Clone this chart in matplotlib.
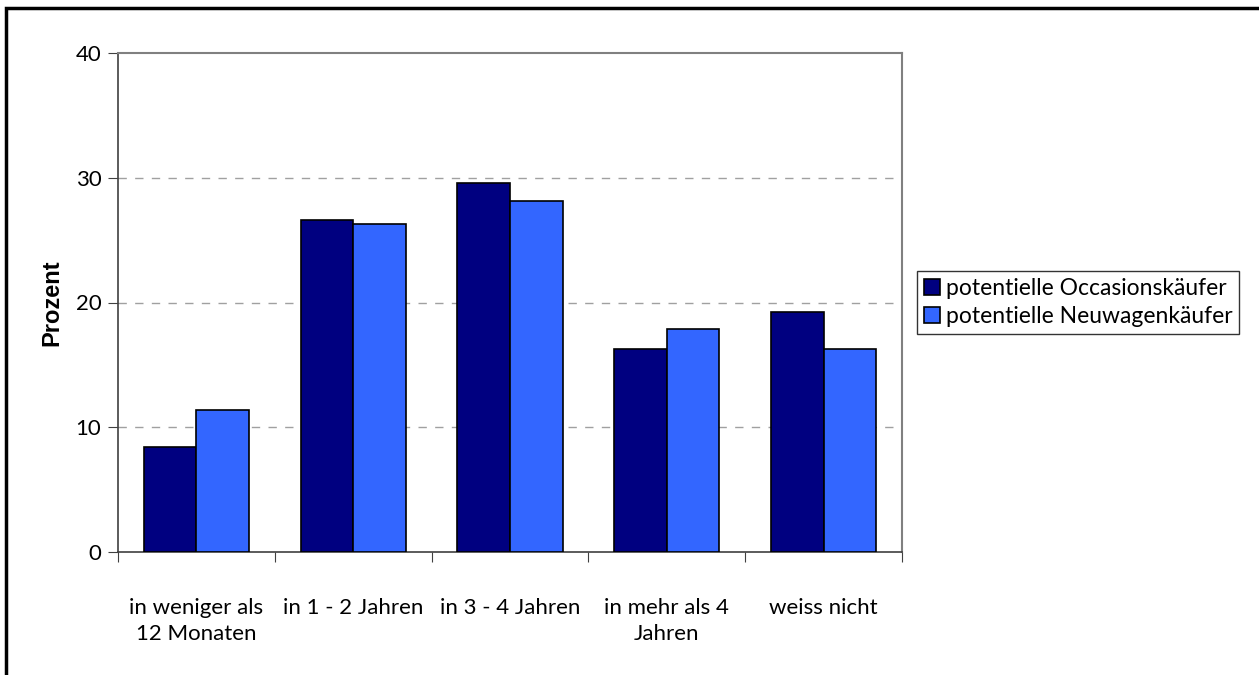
import numpy as np
import matplotlib.pyplot as plt
from matplotlib.patches import Rectangle

categories = ["in weniger als\n12 Monaten", "in 1 - 2 Jahren", "in 3 - 4 Jahren",
              "in mehr als 4\nJahren", "weiss nicht"]
occasion = [8.4, 26.6, 29.6, 16.3, 19.2]
neuwagen = [11.4, 26.3, 28.1, 17.9, 16.3]
series_names = ["potentielle Occasionskäufer", "potentielle Neuwagenkäufer"]

plt.rcParams['font.family'] = ['Lato', 'DejaVu Sans']

fig = plt.figure(figsize=(12.59, 6.75), dpi=100)
ax = fig.add_axes([118 / 1259, 1 - 552 / 675, 784 / 1259, 499 / 675])

x = np.arange(len(categories))
w = 0.335
ax.bar(x - w / 2, occasion, w, color="#000080", edgecolor="black", linewidth=1.2,
       label=series_names[0], zorder=3)
ax.bar(x + w / 2, neuwagen, w, color="#3366FF", edgecolor="black", linewidth=1.2,
       label=series_names[1], zorder=3)

ax.set_xlim(-0.5, len(categories) - 0.5)
ax.set_ylim(0, 40)
ax.set_yticks([0, 10, 20, 30, 40])
ax.set_yticklabels(["0", "10", "20", "30", "40"], fontsize=16)
for yv in [10, 20, 30]:
    ax.axhline(yv, color="#a0a0a0", linestyle=(0, (6, 6)), linewidth=1, zorder=1)

ax.set_xticks(np.arange(len(categories) + 1) - 0.5)
ax.set_xticklabels([])
ax.set_xticks(x, minor=True)
ax.set_xticklabels(categories, minor=True, fontsize=16, linespacing=1.4)
ax.tick_params(axis="x", which="minor", length=0, pad=33)
ax.tick_params(axis="x", which="major", length=7, direction="out", color="#404040")
ax.tick_params(axis="y", length=7, direction="out", color="#404040", pad=5)

for s in ["top", "right"]:
    ax.spines[s].set_color("#808080")
    ax.spines[s].set_linewidth(1.5)
for s in ["left", "bottom"]:
    ax.spines[s].set_color("#404040")
    ax.spines[s].set_linewidth(1.2)

ax.set_ylabel("Prozent", fontsize=17, fontweight="bold", family="Liberation Sans", labelpad=9)

leg = ax.legend(loc="center left", bbox_to_anchor=(1.019, 0.5), fontsize=16.5,
                frameon=True, fancybox=False, edgecolor="black", handlelength=0.7,
                handleheight=0.7, handletextpad=0.25, borderpad=0.3, labelspacing=0.3,
                borderaxespad=0)
leg.get_frame().set_linewidth(1.0)

fig.patches.append(Rectangle((6 / 1259, -0.1), 1.2, 1 - 8 / 675 + 0.1,
                             transform=fig.transFigure, fill=False,
                             edgecolor="black", linewidth=2.5))

fig.savefig("out.png", dpi=100)
